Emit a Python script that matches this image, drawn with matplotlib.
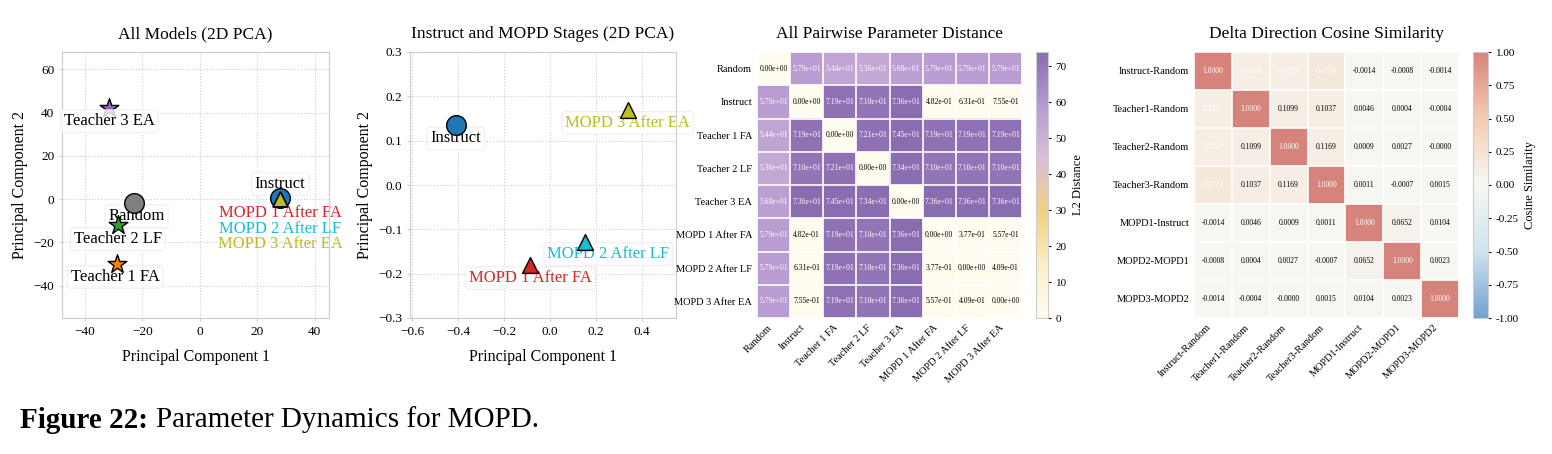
import numpy as np
import matplotlib
matplotlib.use("Agg")
import matplotlib.pyplot as plt
from matplotlib.colors import LinearSegmentedColormap

plt.rcParams['font.family'] = ['Liberation Serif', 'DejaVu Serif']

# ---- data ----
all_names = ["Random", "Teacher 1 FA", "Teacher 2 LF", "Teacher 3 EA", "Instruct",
             "MOPD 1 After FA", "MOPD 2 After LF", "MOPD 3 After EA"]
all_pc1 = [-23, -29, -28.5, -31.5, 28, 28, 28, 28]
all_pc2 = [-2, -30, -12, 42, 0.5, 0, 0, 0]
all_colors = ["#7f7f7f", "#ff7f0e", "#2ca02c", "#9467bd", "#1f77b4", "#d62728", "#17becf", "#bcbd22"]
all_markers = ["o", "*", "*", "*", "o", "^", "^", "^"]

st_names = ["Instruct", "MOPD 1 After FA", "MOPD 2 After LF", "MOPD 3 After EA"]
st_pc1 = [-0.41, -0.085, 0.155, 0.34]
st_pc2 = [0.135, -0.18, -0.128, 0.17]
st_colors = ["#1f77b4", "#d62728", "#17becf", "#bcbd22"]
st_markers = ["o", "^", "^", "^"]

dist_labels = ["Random", "Instruct", "Teacher 1 FA", "Teacher 2 LF", "Teacher 3 EA",
               "MOPD 1 After FA", "MOPD 2 After LF", "MOPD 3 After EA"]
dist = np.array([
    [0.0, 57.9, 54.4, 53.6, 56.8, 57.9, 57.9, 57.9],
    [57.9, 0.0, 71.9, 71.0, 73.6, 0.482, 0.631, 0.755],
    [54.4, 71.9, 0.0, 72.1, 74.5, 71.9, 71.9, 71.9],
    [53.6, 71.0, 72.1, 0.0, 73.4, 71.0, 71.0, 71.0],
    [56.8, 73.6, 74.5, 73.4, 0.0, 73.6, 73.6, 73.6],
    [57.9, 0.482, 71.9, 71.0, 73.6, 0.0, 0.377, 0.557],
    [57.9, 0.631, 71.9, 71.0, 73.6, 0.377, 0.0, 0.409],
    [57.9, 0.755, 71.9, 71.0, 73.6, 0.557, 0.409, 0.0],
])

cos_labels = ["Instruct-Random", "Teacher1-Random", "Teacher2-Random", "Teacher3-Random",
              "MOPD1-Instruct", "MOPD2-MOPD1", "MOPD3-MOPD2"]
cos = np.array([
    [1.0, 0.1021, 0.1020, 0.1774, -0.0014, -0.0008, -0.0014],
    [0.1021, 1.0, 0.1099, 0.1037, 0.0046, 0.0004, -0.0004],
    [0.1020, 0.1099, 1.0, 0.1169, 0.0009, 0.0027, -0.0000],
    [0.1774, 0.1037, 0.1169, 1.0, 0.0011, -0.0007, 0.0015],
    [-0.0014, 0.0046, 0.0009, 0.0011, 1.0, 0.0652, 0.0104],
    [-0.0008, 0.0004, 0.0027, -0.0007, 0.0652, 1.0, 0.0023],
    [-0.0014, -0.0004, -0.0000, 0.0015, 0.0104, 0.0023, 1.0],
])

W, H = 1552, 454
fig = plt.figure(figsize=(W/100, H/100), dpi=100)

def ax_at(x0, y0, x1, y1):
    return fig.add_axes([x0/W, 1-y1/H, (x1-x0)/W, (y1-y0)/H])

bbox = dict(boxstyle="round,pad=0.2", fc="white", ec="#eeeeee", alpha=0.8)

def style(ax):
    ax.grid(True, linestyle=":", color="#cccccc", linewidth=0.8)
    for s in ax.spines.values():
        s.set_color("#cccccc")
    ax.tick_params(labelsize=9.5, length=2, color="#cccccc")
    ax.set_xlabel("Principal Component 1", fontsize=11.5, labelpad=8)
    ax.set_ylabel("Principal Component 2", fontsize=11.5)

LF = 12
# ---- panel 1 ----
ax1 = ax_at(62, 52, 329, 318)
for n, x, y, c, m in zip(all_names, all_pc1, all_pc2, all_colors, all_markers):
    ax1.scatter(x, y, c=c, marker=m, s=200 if m != "^" else 110, edgecolors="black", linewidths=1, zorder=3)
ax1.set_xlim(-48, 45); ax1.set_ylim(-55, 68)
ax1.set_xticks([-40, -20, 0, 20, 40]); ax1.set_yticks([-40, -20, 0, 20, 40, 60])
style(ax1)
ax1.set_title("All Models (2D PCA)", fontsize=12.5, pad=10)
ax1.text(-31.5, 36, "Teacher 3 EA", ha="center", va="center", fontsize=LF, bbox=bbox)
ax1.text(-22, -8, "Random", ha="center", va="center", fontsize=LF, bbox=bbox, zorder=2)
ax1.text(-28.5, -18.5, "Teacher 2 LF", ha="center", va="center", fontsize=LF, bbox=bbox, zorder=2)
ax1.text(-29.5, -36, "Teacher 1 FA", ha="center", va="center", fontsize=LF, bbox=bbox, zorder=2)
ax1.text(28, 7, "Instruct", ha="center", va="center", fontsize=LF, bbox=bbox, zorder=2)
ax1.text(28, -6.5, "MOPD 1 After FA", ha="center", va="center", fontsize=LF, color="#d62728", zorder=2)
ax1.text(28, -14, "MOPD 2 After LF", ha="center", va="center", fontsize=LF, color="#17becf", zorder=2)
ax1.text(28, -21, "MOPD 3 After EA", ha="center", va="center", fontsize=LF, color="#bcbd22", zorder=2)

# ---- panel 2 ----
ax2 = ax_at(410, 52, 676, 318)
for n, x, y, c, m in zip(st_names, st_pc1, st_pc2, st_colors, st_markers):
    ax2.scatter(x, y, c=c, marker=m, s=200 if m == "o" else 130, edgecolors="black", linewidths=1, zorder=3)
ax2.set_xlim(-0.61, 0.55); ax2.set_ylim(-0.3, 0.3)
ax2.set_xticks([-0.6, -0.4, -0.2, 0.0, 0.2, 0.4]); ax2.set_yticks(np.arange(-0.3, 0.31, 0.1))
style(ax2)
ax2.set_title("Instruct and MOPD Stages (2D PCA)", fontsize=12.5, pad=10)
offs = [(0, -0.03), (0, -0.03), (0.1, -0.028), (0, -0.03)]
for n, x, y, c, o in zip(st_names, st_pc1, st_pc2, st_colors, offs):
    ax2.text(x + o[0], y + o[1], n, ha="center", va="center", fontsize=LF,
             color="black" if n == "Instruct" else c, bbox=bbox, zorder=2)

# ---- panel 3 ----
ax3 = ax_at(757, 52, 1022, 318)
cmap3 = LinearSegmentedColormap.from_list("d", ["#fffdf0", "#fbefc4", "#f2d07e", "#d9bfd9", "#b69ad2", "#8a6cb0"],)
im3 = ax3.imshow(dist, cmap=cmap3, vmin=0, vmax=74, aspect="auto")
n = len(dist_labels)
for i in range(n):
    for j in range(n):
        v = dist[i, j]
        ax3.text(j, i, f"{v:.2e}", ha="center", va="center", fontsize=5.5,
                 color="white" if v > 37 else "black")
ax3.set_xticks(np.arange(n + 1) - 0.5, minor=True); ax3.set_yticks(np.arange(n + 1) - 0.5, minor=True)
ax3.grid(which="minor", color="white", linewidth=1.2)
ax3.tick_params(which="minor", length=0)
ax3.set_xticks(range(n)); ax3.set_xticklabels(dist_labels, rotation=45, ha="right", fontsize=7.5)
ax3.set_yticks(range(n)); ax3.set_yticklabels(dist_labels, fontsize=7.5)
ax3.tick_params(length=0)
for s in ax3.spines.values(): s.set_visible(False)
ax3.set_title("All Pairwise Parameter Distance", fontsize=12.5, pad=10)
cax3 = ax_at(1036, 52, 1048, 318)
cb3 = fig.colorbar(im3, cax=cax3)
cb3.set_label("L2 Distance", fontsize=9)
cb3.ax.tick_params(labelsize=8, length=2)
cb3.outline.set_edgecolor("#cccccc")

# ---- panel 4 ----
ax4 = ax_at(1194, 52, 1459, 318)
cmap4 = LinearSegmentedColormap.from_list("c", ["#6fa3cf", "#cfe3ee", "#f7f7f4", "#f3cdb0", "#d6847b"])
im4 = ax4.imshow(cos, cmap=cmap4, vmin=-1, vmax=1, aspect="auto")
m = len(cos_labels)
for i in range(m):
    for j in range(m):
        v = cos[i, j]
        white = v > 0.99 or ((i == 0 or j == 0) and v > 0.1)
        ax4.text(j, i, f"{v:.4f}", ha="center", va="center", fontsize=5.5,
                 color="white" if white else "black")
ax4.set_xticks(np.arange(m + 1) - 0.5, minor=True); ax4.set_yticks(np.arange(m + 1) - 0.5, minor=True)
ax4.grid(which="minor", color="white", linewidth=1.2)
ax4.tick_params(which="minor", length=0)
ax4.set_xticks(range(m)); ax4.set_xticklabels(cos_labels, rotation=45, ha="right", fontsize=7.5)
ax4.set_yticks(range(m)); ax4.set_yticklabels(cos_labels, fontsize=7.5)
ax4.tick_params(length=0)
for s in ax4.spines.values(): s.set_visible(False)
ax4.set_title("Delta Direction Cosine Similarity", fontsize=12.5, pad=10)
cax4 = ax_at(1473, 52, 1488, 318)
cb4 = fig.colorbar(im4, cax=cax4, ticks=[-1, -0.75, -0.5, -0.25, 0, 0.25, 0.5, 0.75, 1])
cb4.ax.set_yticklabels([f"{t:.2f}" for t in [-1, -0.75, -0.5, -0.25, 0, 0.25, 0.5, 0.75, 1]])
cb4.set_label("Cosine Similarity", fontsize=9)
cb4.ax.tick_params(labelsize=8, length=2)
cb4.outline.set_edgecolor("#cccccc")

# ---- caption ----
t1 = fig.text(20/W, 1-420/H, "Figure 22:", fontsize=21, fontweight="bold",
              family=["Liberation Serif"], va="center")
fig.canvas.draw()
bb = t1.get_window_extent()
fig.text((bb.x1 + 8)/W, 1-420/H, "Parameter Dynamics for MOPD.", fontsize=21,
         family=["Liberation Serif"], va="center")

fig.savefig("out.png", dpi=100)
